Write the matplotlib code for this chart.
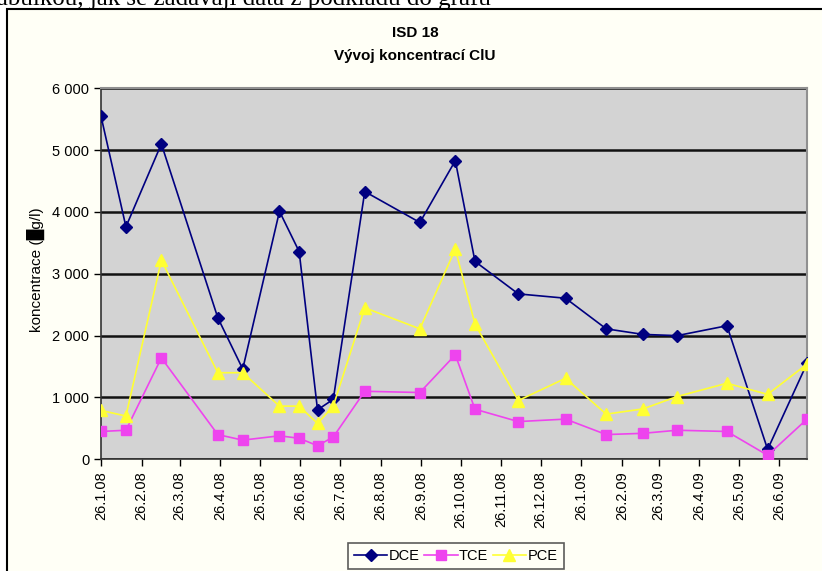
import datetime as dt
import matplotlib
matplotlib.use("Agg")
import matplotlib.pyplot as plt
import matplotlib.dates as mdates
from matplotlib.patches import Rectangle
from matplotlib.ticker import FuncFormatter, MultipleLocator

plt.rcParams['font.family'] = ['Liberation Sans', 'DejaVu Sans']

# data (µg/l)
dates = ["26.1.08", "14.2.08", "12.3.08", "24.4.08", "13.5.08", "10.6.08", "25.6.08",
         "9.7.08", "21.7.08", "14.8.08", "25.9.08", "22.10.08", "6.11.08", "9.12.08",
         "14.1.09", "14.2.09", "14.3.09", "9.4.09", "17.5.09", "17.6.09", "17.7.09"]
dce = [5550, 3760, 5100, 2290, 1460, 4010, 3360, 800, 970, 4330, 3830, 4830, 3200,
       2675, 2605, 2110, 2020, 2000, 2160, 160, 1550]
tce = [450, 470, 1640, 400, 310, 380, 340, 220, 360, 1100, 1080, 1690, 810, 610, 650,
       400, 420, 470, 450, 65, 650]
pce = [790, 700, 3220, 1400, 1400, 860, 860, 580, 860, 2450, 2110, 3400, 2185, 950,
       1310, 730, 815, 1015, 1230, 1050, 1540]

x = [dt.datetime.strptime(d, "%d.%m.%y") for d in dates]

W, H = 822, 571
fig = plt.figure(figsize=(W / 100, H / 100), dpi=100)
fig.patch.set_facecolor("white")

# rámeček grafu (přesahuje vpravo a dole)
fig.patches.append(Rectangle((7 / W, -0.1), 1.2, 1.1 - 9 / H, transform=fig.transFigure,
                             facecolor="#fffff6", edgecolor="black", lw=1.5, zorder=-5))

# useknutý text dokumentu nahoře
fig.text(-0.012, 1 - 5 / H, "tabulkou, jak se zadávají data z podkladu do grafu",
         family="Liberation Serif", fontsize=18, va="baseline", ha="left")

ax = fig.add_axes([101 / W, 1 - 459.3 / H, (807 - 101) / W, (459.3 - 88.3) / H])
ax.set_facecolor("#d3d3d3")

ax.plot(x, dce, color="#000080", marker="D", ms=6, lw=1.2, label="DCE", zorder=3)
ax.plot(x, tce, color="#ee44ee", marker="s", ms=7, lw=1.2, label="TCE", zorder=3)
ax.plot(x, pce, color="#ffff33", marker="^", ms=8, lw=1.2, label="PCE", zorder=3)

ax.set_xlim(x[0], x[-1])
ax.set_ylim(0, 6000)
ax.yaxis.set_major_locator(MultipleLocator(1000))
ax.yaxis.set_major_formatter(FuncFormatter(lambda v, p: f"{int(v):,}".replace(",", " ")))
ax.xaxis.set_major_locator(mdates.MonthLocator(bymonthday=26))
ax.xaxis.set_major_formatter(FuncFormatter(
    lambda v, p: (lambda d: f"{d.day}.{d.month}.{d:%y}")(mdates.num2date(v))))
ax.tick_params(axis="x", rotation=90, labelsize=10.5, direction="out", length=5, width=1)
ax.tick_params(axis="y", labelsize=10.5, direction="out", length=5, width=1)
ax.grid(axis="y", color="#111111", lw=1.8)
ax.set_axisbelow(True)
for s in ["left", "bottom"]:
    ax.spines[s].set_color("#333333")
    ax.spines[s].set_linewidth(1.2)
for s in ["top", "right"]:
    ax.spines[s].set_color("#909090")
    ax.spines[s].set_linewidth(1.5)

fig.text(0.505, 1 - 33 / H, "ISD 18", fontsize=11, fontweight="bold", ha="center", va="center")
fig.text(0.505, 1 - 56 / H, "Vývoj koncentrací ClU", fontsize=11, fontweight="bold",
         ha="center", va="center")
fig.text(36 / W, 1 - 270 / H, "koncentrace (█g/l)", rotation=90, fontsize=11,
         ha="center", va="center", family=["Liberation Sans", "DejaVu Sans"])

leg = fig.legend(loc="upper left", bbox_to_anchor=(348 / W, 1 - 543 / H), ncol=3,
                 fontsize=10.5, frameon=True, fancybox=False, borderaxespad=0,
                 handlelength=2.3, handletextpad=0.1, columnspacing=0.3,
                 borderpad=0.4)
leg.get_frame().set_edgecolor("#333333")
leg.get_frame().set_linewidth(1.2)
leg.get_frame().set_facecolor("#fffff6")

fig.savefig("out.png", dpi=100)
